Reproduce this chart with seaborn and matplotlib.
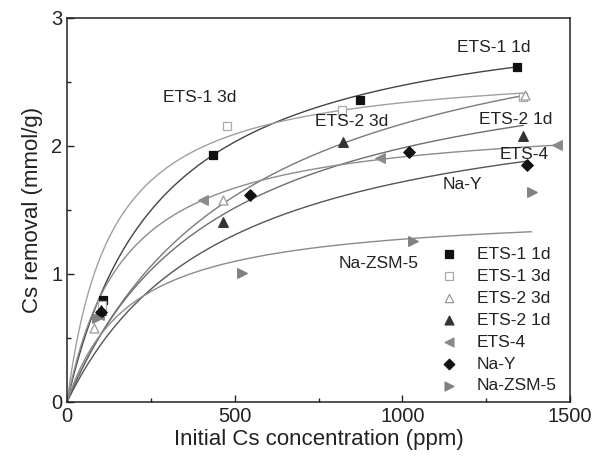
import numpy as np
import pandas as pd
import matplotlib
matplotlib.use("Agg")
import matplotlib.pyplot as plt
import seaborn as sns
from matplotlib.ticker import MultipleLocator

sns.set_style("ticks")
plt.rcParams["font.family"] = ["Liberation Sans", "DejaVu Sans"]

# ---- data ----
series = ["ETS-1 1d", "ETS-1 3d", "ETS-2 3d", "ETS-2 1d", "ETS-4", "Na-Y", "Na-ZSM-5"]

ets1_1d_x = [108, 436, 875, 1343]
ets1_1d_y = [0.80, 1.93, 2.36, 2.62]
ets1_3d_x = [105, 478, 821, 1361]
ets1_3d_y = [0.76, 2.16, 2.28, 2.38]
ets2_3d_x = [80, 465, 1365]
ets2_3d_y = [0.58, 1.58, 2.40]
ets2_1d_x = [100, 466, 824, 1361]
ets2_1d_y = [0.72, 1.41, 2.03, 2.08]
ets4_x = [95, 406, 934, 1462]
ets4_y = [0.68, 1.58, 1.91, 2.01]
nay_x = [100, 546, 1021, 1373]
nay_y = [0.70, 1.62, 1.95, 1.85]
nazsm_x = [90, 522, 1033, 1388]
nazsm_y = [0.66, 1.01, 1.26, 1.64]

# Langmuir fit parameters of the drawn curves (q = qmax*K*C/(1+K*C))
fit_qmax = [3.16, 2.65, 3.34, 2.87, 2.24, 2.52, 1.51]
fit_K = [0.0036, 0.0075, 0.00186, 0.00224, 0.00588, 0.00215, 0.00534]
fit_end = [1343, 1361, 1365, 1361, 1462, 1373, 1385]

label_text = ["ETS-1 1d", "ETS-1 3d", "ETS-2 3d", "ETS-2 1d", "ETS-4", "Na-Y", "Na-ZSM-5"]
label_x = [1274, 397, 850, 1339, 1363, 1178, 930]
label_y = [2.77, 2.38, 2.19, 2.21, 1.93, 1.70, 1.08]

xs_all = [ets1_1d_x, ets1_3d_x, ets2_3d_x, ets2_1d_x, ets4_x, nay_x, nazsm_x]
ys_all = [ets1_1d_y, ets1_3d_y, ets2_3d_y, ets2_1d_y, ets4_y, nay_y, nazsm_y]

# ---- styling ----
markers = ["s", "s", "^", "^", "<", "D", ">"]
face = ["#111111", "white", "white", "#333333", "#8a8a8a", "#111111", "#808080"]
edge = ["#111111", "#aaaaaa", "#999999", "#333333", "#8a8a8a", "#111111", "#808080"]
msize = [40, 40, 42, 48, 48, 34, 48]
line_col = ["#444444", "#a0a0a0", "#7a7a7a", "#6e6e6e", "#8c8c8c", "#555555", "#8a8a8a"]

fig = plt.figure(figsize=(6.06, 4.61), dpi=100)
ax = fig.add_axes([0.1106, 0.128, 0.830, 0.833])

pts = pd.DataFrame({
    "x": sum(xs_all, []),
    "y": sum(ys_all, []),
    "series": sum([[s] * len(x) for s, x in zip(series, xs_all)], []),
})

for i, s in enumerate(series):
    c = np.linspace(0, fit_end[i], 300)
    q = fit_qmax[i] * fit_K[i] * c / (1 + fit_K[i] * c)
    sns.lineplot(x=c, y=q, ax=ax, color=line_col[i], lw=1.0, zorder=2)

handles = []
for i, s in enumerate(series):
    sub = pts[pts["series"] == s]
    sns.scatterplot(data=sub, x="x", y="y", ax=ax, marker=markers[i], s=msize[i],
                    color=face[i], edgecolor=edge[i], linewidth=0.9, zorder=3)
    handles.append(ax.scatter([], [], marker=markers[i], s=msize[i] * 0.85,
                              facecolor=face[i], edgecolor=edge[i], linewidth=0.9))

for t, x, y in zip(label_text, label_x, label_y):
    ax.text(x, y, t, fontsize=12.5, color="#222222", ha="center", va="center", zorder=4)

ax.legend(handles, series, loc="lower right", frameon=False, fontsize=12.5,
          handletextpad=0.6, labelspacing=0.39, borderaxespad=0.2,
          bbox_to_anchor=(0.995, -0.005), labelcolor="#222222")

ax.set_xlim(0, 1500)
ax.set_ylim(0, 3)
ax.xaxis.set_major_locator(MultipleLocator(500))
ax.xaxis.set_minor_locator(MultipleLocator(250))
ax.yaxis.set_major_locator(MultipleLocator(1))
ax.yaxis.set_minor_locator(MultipleLocator(0.5))
ax.tick_params(which="both", direction="in", top=False, right=False, colors="#222222",
               labelsize=14.5, width=1.0)
ax.tick_params(which="major", length=5)
ax.tick_params(which="minor", length=3)
for sp in ax.spines.values():
    sp.set_visible(True)
    sp.set_color("#222222")
    sp.set_linewidth(1.1)

ax.set_xlabel("Initial Cs concentration (ppm)", fontsize=16, color="#222222", labelpad=2)
ax.set_ylabel("Cs removal (mmol/g)", fontsize=16, color="#222222", labelpad=6)

fig.savefig("out.png", dpi=100)
